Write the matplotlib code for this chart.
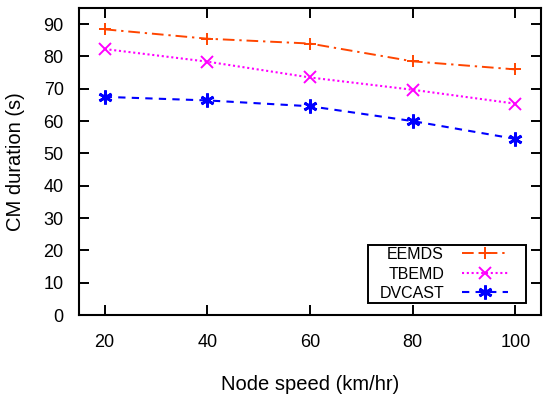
import matplotlib
matplotlib.use("Agg")
import matplotlib.pyplot as plt
from matplotlib.patches import Rectangle

plt.rcParams['font.family'] = ['Liberation Sans', 'DejaVu Sans']

speeds = [20, 40, 60, 80, 100]
eemds = [88.4, 85.5, 84.0, 78.5, 76.0]
tbemd = [82.3, 78.4, 73.5, 69.7, 65.4]
dvcast = [67.5, 66.4, 64.6, 60.0, 54.5]

W, H = 550, 399
fig = plt.figure(figsize=(W / 100, H / 100), dpi=100)
L, R, T, B = 79, 541, 8, 315
ax = fig.add_axes([L / W, 1 - B / H, (R - L) / W, (B - T) / H])

ax.plot(speeds, eemds, color='#ff4500', linestyle=(0, (6, 2.5, 1.2, 2.5)), lw=1.4,
        marker='+', markersize=9, markeredgewidth=1.4, label='EEMDS')
ax.plot(speeds, tbemd, color='#ff00ff', linestyle=(0, (1, 1.3)), lw=1.5,
        marker='x', markersize=8, markeredgewidth=1.4, label='TBEMD')
ax.plot(speeds, dvcast, color='#0000ff', linestyle=(0, (3.5, 3)), lw=1.5,
        marker=(6, 2, 0), markersize=10, markeredgewidth=2.0, label='DVCAST')

ax.set_xlim(15, 105)
ax.set_ylim(0, 95)
ax.set_xticks(speeds)
ax.set_yticks(range(0, 91, 10))
ax.tick_params(direction='in', top=True, right=True, length=7, width=1.4,
               labelsize=13)
ax.tick_params(axis='x', pad=14)
ax.tick_params(axis='y', pad=11)
for s in ax.spines.values():
    s.set_linewidth(1.5)

ax.set_xlabel('Node speed (km/hr)', fontsize=14.5)
ax.set_ylabel('CM duration (s)', fontsize=14.5)
ax.xaxis.set_label_coords(0.5, (B - 375) / (B - T))
ax.yaxis.set_label_coords((25 - L) / (R - L), 0.5)

leg = ax.legend(loc='lower right', bbox_to_anchor=((508 - L) / (R - L), (B - 301) / (B - T)),
                fontsize=11.5, frameon=False, markerfirst=False, handlelength=2.9,
                borderaxespad=0, labelspacing=0.28, handletextpad=1.1,
                borderpad=0)
for t in leg.get_texts():
    t.set_ha('right')

fig.canvas.draw()
bb = leg.get_window_extent()
padl, padr, pady = 11, 18, 2
rect = Rectangle((bb.x0 - padl, bb.y0 - pady), bb.width + padl + padr, bb.height + 2 * pady,
                 transform=None, fill=False, edgecolor='black', linewidth=1.4)
fig.add_artist(rect)

fig.savefig('out.png', dpi=100)
